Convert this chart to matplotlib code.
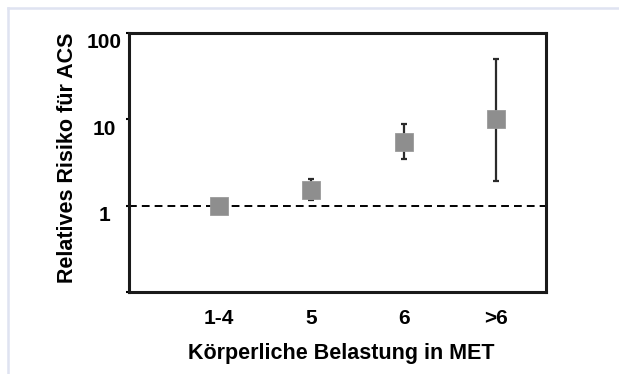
import numpy as np
import matplotlib.pyplot as plt
import matplotlib.transforms as mtransforms
from matplotlib.lines import Line2D

plt.rcParams['font.family'] = ['Liberation Sans', 'DejaVu Sans']
plt.rcParams['font.weight'] = 'bold'

categories = ['1-4', '5', '6', '>6']
rr = [1.0, 1.55, 5.5, 10.0]
ci_low = [1.0, 1.16, 3.5, 1.95]
ci_high = [1.0, 2.05, 8.8, 50.0]
ytick_vals = [0.1, 1, 10, 100]
ytick_labels = ['', '1', '10', '100']

x = np.arange(1, len(categories) + 1)
rr = np.array(rr)
yerr = np.vstack([rr - np.array(ci_low), np.array(ci_high) - rr])

fig = plt.figure(figsize=(6.19, 3.74), dpi=100)
ax = fig.add_axes([0.2084, 0.218, 0.6737, 0.6938])

ax.axhline(1, color='black', linestyle=(0, (4, 2.6)), linewidth=1.4, zorder=1)
ax.errorbar(x, rr, yerr=yerr, fmt='none', ecolor='#2b2b2b', elinewidth=1.6,
            capsize=2, capthick=1.6, zorder=2)
ax.plot(x, rr, linestyle='none', marker='s', markersize=12.5,
        markerfacecolor='#8e8e8e', markeredgecolor='#9a9a9a', markeredgewidth=0.6,
        zorder=3)

ax.set_yscale('log')
ax.set_ylim(0.1, 100)
ax.set_xlim(0.03, 4.54)
ax.set_yticks(ytick_vals)
ax.set_yticklabels(ytick_labels)
ax.yaxis.set_minor_locator(plt.NullLocator())
ax.set_xticks(x)
ax.set_xticklabels(categories)

ax.tick_params(axis='y', length=2.2, width=1.5, pad=15.5, labelsize=15)
ax.tick_params(axis='x', length=0, pad=12, labelsize=15)
# y labels sit centred and a little below their ticks
shift = mtransforms.ScaledTranslation(0, -8 / 100, fig.dpi_scale_trans)
for lab in ax.get_yticklabels():
    lab.set_horizontalalignment('center')
    lab.set_transform(lab.get_transform() + shift)

for s in ax.spines.values():
    s.set_linewidth(2.2)
    s.set_color('#1a1a1a')

ax.set_xlabel('Körperliche Belastung in MET', fontsize=15.5, fontweight='bold')
ax.set_ylabel('Relatives Risiko für ACS', fontsize=15.5, fontweight='bold')
ax.xaxis.set_label_coords(0.509, -0.193)
ax.yaxis.set_label_coords(-0.1234, 0.518)

# light frame around the picture (top and left edge)
fig.add_artist(Line2D([0.013, 1.0], [1 - 8 / 374, 1 - 8 / 374], transform=fig.transFigure,
                      color='#dfe3f1', linewidth=1.8))
fig.add_artist(Line2D([0.013, 0.013], [1 - 8 / 374, 0.0], transform=fig.transFigure,
                      color='#dfe3f1', linewidth=1.8))

fig.savefig('out.png', dpi=100)
